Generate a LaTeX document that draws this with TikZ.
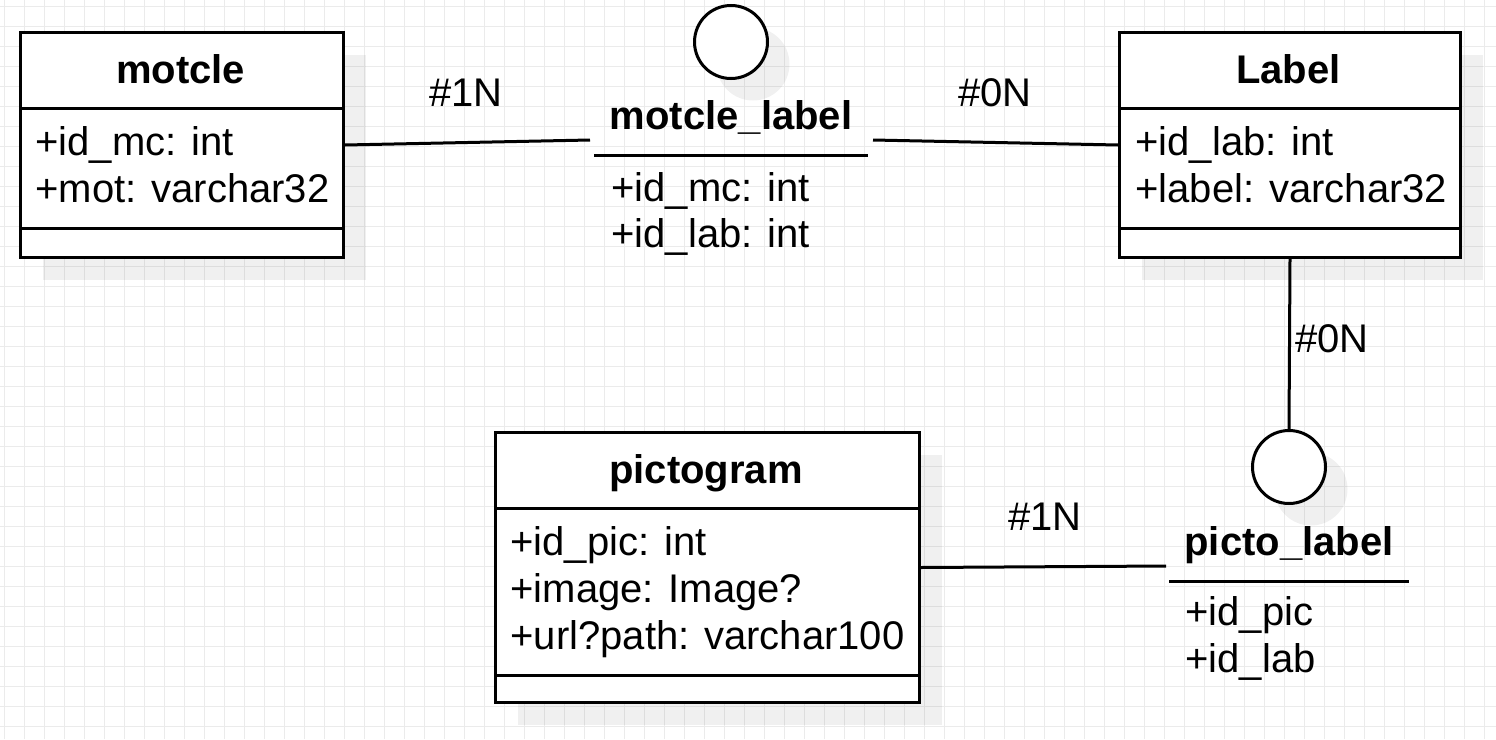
\documentclass[tikz,border=0pt]{standalone}
\usepackage{fontspec}
\setmainfont{Liberation Sans}
\usetikzlibrary{shadows}

\begin{document}
\begin{tikzpicture}[x=1pt, y=-1pt, line width=3pt]
  \tikzstyle{gridline} = [draw=black!8, line width=1pt]
  \tikzstyle{entity} = [draw=black, fill=white, line width=3pt, anchor=north west, inner sep=0pt,
    drop shadow={shadow xshift=22pt, shadow yshift=-22pt, fill=black, opacity=0.06}]
  \tikzstyle{assoc} = [circle, draw=black, fill=white, line width=3pt, minimum size=73pt, inner sep=0pt,
    drop shadow={shadow xshift=22pt, shadow yshift=-22pt, fill=black, opacity=0.06}]
  \tikzstyle{title} = [anchor=base, inner sep=0pt, font=\fontsize{40}{48}\selectfont\bfseries]
  \tikzstyle{attr} = [anchor=base west, inner sep=0pt, font=\fontsize{40}{48}\selectfont]
  \tikzstyle{card} = [anchor=base, inner sep=0pt, font=\fontsize{40}{48}\selectfont]

  % background grid
  \fill[white] (0,0) rectangle (1496,739);
  \useasboundingbox (0,0) rectangle (1496,739);
  \foreach \gx in {4,24,...,1496}
    \draw[gridline] (\gx,0) -- (\gx,739);
  \foreach \gy in {6,26,...,739}
    \draw[gridline] (0,\gy) -- (1496,\gy);

  % motcle
  \node[entity, minimum width=323pt, minimum height=225pt] (motcle) at (19,31) {};
  \draw (19,108) -- (342,108);
  \draw (19,228) -- (342,228);
  \node[title] (motcle-t) at (180.5,83) {motcle};
  \foreach \i / \t in {0/{+id\_mc: int}, 1/{+mot: varchar32}}
    \node[attr] (motcle-\i) at (34,155+47*\i) {\t};

  % Label
  \node[entity, minimum width=341pt, minimum height=225pt] (label) at (1118,31) {};
  \draw (1118,108) -- (1459,108);
  \draw (1118,228) -- (1459,228);
  \node[title] (label-t) at (1288.5,83) {Label};
  \foreach \i / \t in {0/{+id\_lab: int}, 1/{+label: varchar32}}
    \node[attr] (label-\i) at (1134,155+47*\i) {\t};

  % pictogram
  \node[entity, minimum width=424pt, minimum height=270pt] (pictogram) at (494,431) {};
  \draw (494,508) -- (918,508);
  \draw (494,675) -- (918,675);
  \node[title] (pictogram-t) at (706,483) {pictogram};
  \foreach \i / \t in {0/{+id\_pic: int}, 1/{+image: Image?}, 2/{+url?path: varchar100}}
    \node[attr] (pictogram-\i) at (509,555+47*\i) {\t};

  % motcle_label
  \node[assoc] (ml-circ) at (731,42) {};
  \node[title] (ml-t) at (731,129) {motcle\_label};
  \draw (594,155) -- (868,155);
  \foreach \i / \t in {0/{+id\_mc: int}, 1/{+id\_lab: int}}
    \node[attr] (ml-\i) at (610,201+46*\i) {\t};
  \coordinate (ml-w) at (590,140);
  \coordinate (ml-e) at (873,140);

  % picto_label
  \node[assoc] (pl-circ) at (1289,467) {};
  \node[title] (pl-t) at (1289,555) {picto\_label};
  \draw (1169,581) -- (1409,581);
  \foreach \i / \t in {0/{+id\_pic}, 1/{+id\_lab}}
    \node[attr] (pl-\i) at (1184,625+47*\i) {\t};
  \coordinate (pl-w) at (1166,566);

  % links
  \draw (motcle.east) -- (ml-w);
  \draw (ml-e) -- (label.west);
  \draw (label.south) -- (pl-circ.north);
  \draw (pictogram.east) -- (pl-w);

  \node[card] (c1) at (466,106) {\#1N};
  \node[card] (c2) at (995,106) {\#0N};
  \node[card] (c3) at (1332,352) {\#0N};
  \node[card] (c4) at (1045,530) {\#1N};
\end{tikzpicture}
\end{document}
